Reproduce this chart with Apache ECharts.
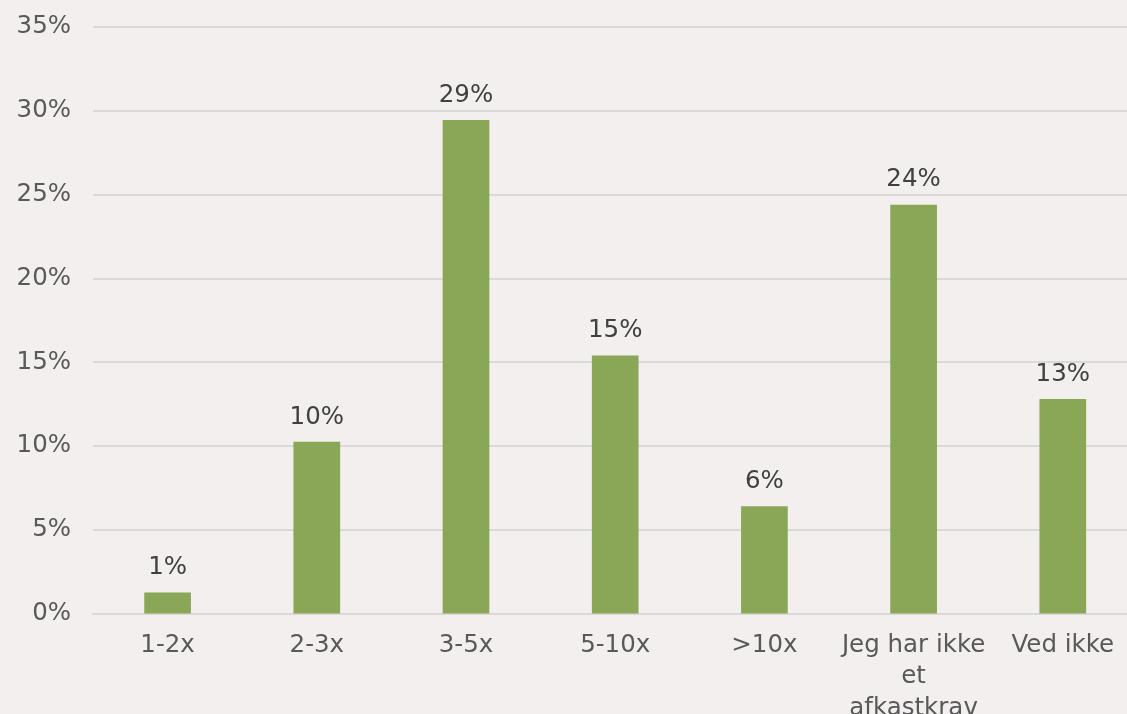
<!DOCTYPE html>
<html><head><meta charset="utf-8">
<script src="https://cdn.jsdelivr.net/npm/echarts@6/dist/echarts.min.js"></script>
<style>html,body{margin:0;padding:0;background:#f2efee;overflow:hidden;}#c{width:1127px;height:714px;overflow:hidden;}</style>
</head><body><div id="c"></div>
<script>
const categories = ["1-2x", "2-3x", "3-5x", "5-10x", ">10x", "Jeg har ikke\net\nafkastkrav", "Ved ikke"];
const values = [1.25, 10.25, 29.45, 15.4, 6.4, 24.4, 12.8];
const yTicks = [0, 5, 10, 15, 20, 25, 30, 35];

const chart = echarts.init(document.getElementById('c'), null, {renderer: 'canvas'});
chart.setOption({
  backgroundColor: '#f2efee',
  animation: false,
  textStyle: {fontFamily: 'DejaVu Sans'},
  grid: {left: 93, right: -10.4, top: 27, bottom: 100.5, containLabel: false, outerBoundsMode: 'none'},
  xAxis: {
    type: 'category', data: categories,
    axisLine: {show: true, lineStyle: {color: '#d9d9d9', width: 2}},
    axisTick: {show: false},
    axisLabel: {color: '#595959', fontSize: 24.5, fontFamily: 'DejaVu Sans', lineHeight: 31.5, margin: 16, interval: 0}
  },
  yAxis: {
    type: 'value', min: yTicks[0], max: yTicks[yTicks.length-1], interval: 5,
    axisLine: {show: false}, axisTick: {show: false},
    splitLine: {lineStyle: {color: '#d9d9d9', width: 2}},
    axisLabel: {color: '#595959', fontSize: 24.5, fontFamily: 'DejaVu Sans', margin: 22, formatter: v => v + '%'}
  },
  series: [{
    type: 'bar', data: values, barWidth: '31.3%',
    itemStyle: {color: '#8aa757'},
    label: {show: true, position: 'top', distance: 12, color: '#404040', fontSize: 24.5, fontFamily: 'DejaVu Sans',
      formatter: p => Math.floor(p.value + 0.5) + '%'}
  }]
});
</script></body></html>
